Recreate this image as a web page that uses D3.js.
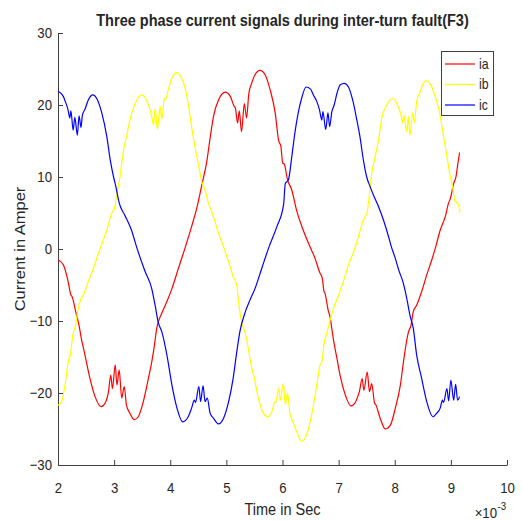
<!DOCTYPE html>
<html>
<head>
<meta charset="utf-8">
<script src="https://cdn.jsdelivr.net/npm/d3@7"></script>
<style>
  body { margin: 0; background: #fff; }
  text { font-family: "Liberation Sans", Arial, sans-serif; fill: #262626; }
</style>
</head>
<body>
<script>
// time in ms (axis shows x10^-3 s), current in A
const iaPoints = [[2.00,-1.5],[2.095,-2.2],[2.18,-4.5],[2.23,-6.4],[2.25,-6.6],[2.315,-8.7],[2.375,-10.6],[2.41,-12.2],[2.48,-14.7],[2.57,-18.0],[2.66,-20.5],[2.77,-21.9],[2.84,-21.4],[2.90,-19.8],[2.94,-17.5],[2.97,-19.4],[3.02,-16.1],[3.05,-18.9],[3.09,-16.8],[3.135,-20.7],[3.18,-19.1],[3.22,-21.7],[3.28,-22.8],[3.36,-23.7],[3.43,-23.3],[3.52,-21.2],[3.61,-18.0],[3.67,-15.7],[3.71,-13.8],[3.76,-11.0],[3.85,-8.9],[3.94,-7.3],[4.03,-5.5],[4.145,-2.7],[4.27,0.3],[4.38,3.1],[4.47,5.6],[4.56,8.8],[4.65,12.1],[4.71,15.4],[4.77,18.4],[4.86,20.7],[4.98,21.8],[5.07,21.2],[5.14,19.8],[5.16,19.6],[5.20,17.5],[5.23,19.2],[5.27,16.3],[5.32,20.2],[5.36,18.2],[5.40,21.6],[5.45,23.0],[5.51,24.2],[5.60,24.8],[5.69,24.2],[5.78,22.1],[5.87,18.9],[5.93,15.1],[5.97,14.3],[6.005,11.9],[6.03,11.8],[6.09,9.6],[6.165,8.2],[6.25,5.4],[6.37,2.6],[6.49,0.3],[6.58,-1.3],[6.66,-3.2],[6.71,-4.1],[6.74,-5.9],[6.75,-6.0],[6.82,-8.7],[6.84,-9.2],[6.91,-12.7],[6.97,-15.2],[7.03,-17.7],[7.12,-20.3],[7.22,-21.8],[7.29,-21.4],[7.35,-20.3],[7.37,-19.8],[7.42,-18.0],[7.45,-19.6],[7.51,-17.1],[7.55,-19.8],[7.59,-18.7],[7.64,-21.4],[7.66,-21.6],[7.74,-23.5],[7.83,-25.0],[7.92,-24.5],[8.01,-22.1],[8.10,-18.9],[8.155,-15.7],[8.20,-13.3],[8.245,-11.5],[8.29,-10.6],[8.33,-8.7],[8.39,-7.8],[8.48,-5.9],[8.57,-3.6],[8.66,-1.5],[8.73,0.3],[8.81,2.6],[8.90,4.5],[8.96,6.4],[8.99,7.0],[9.05,9.1],[9.09,10.0],[9.125,11.9],[9.155,13.4]];

const ibPoints = [[2.00,-21.7],[2.065,-21.2],[2.125,-18.9],[2.195,-15.2],[2.21,-15.0],[2.27,-11.7],[2.315,-10.6],[2.35,-8.7],[2.41,-6.9],[2.45,-6.4],[2.54,-4.5],[2.63,-2.7],[2.72,-0.6],[2.76,0.3],[2.87,2.6],[2.97,5.2],[3.00,5.5],[3.06,8.2],[3.105,10.0],[3.135,11.9],[3.18,14.2],[3.22,15.6],[3.28,17.9],[3.34,19.5],[3.42,20.9],[3.49,21.4],[3.56,20.9],[3.62,19.8],[3.67,18.4],[3.70,17.2],[3.73,19.5],[3.77,16.6],[3.82,19.8],[3.85,18.0],[3.895,20.9],[3.91,20.7],[3.97,22.3],[4.04,23.9],[4.115,24.5],[4.19,23.9],[4.26,22.5],[4.32,20.2],[4.38,17.0],[4.44,14.2],[4.51,11.4],[4.56,9.4],[4.62,8.2],[4.68,6.4],[4.77,4.5],[4.86,2.2],[4.95,0.3],[5.04,-1.8],[5.125,-3.9],[5.185,-5.0],[5.21,-6.9],[5.24,-8.7],[5.285,-10.6],[5.33,-11.5],[5.38,-13.3],[5.44,-16.1],[5.50,-18.0],[5.57,-20.7],[5.66,-22.8],[5.74,-23.3],[5.81,-22.6],[5.87,-21.2],[5.88,-21.3],[5.93,-19.4],[5.96,-21.0],[6.015,-18.7],[6.05,-21.6],[6.09,-20.0],[6.135,-23.0],[6.16,-23.5],[6.255,-25.4],[6.34,-26.7],[6.43,-25.8],[6.52,-23.0],[6.61,-18.9],[6.67,-16.1],[6.70,-15.7],[6.75,-12.7],[6.77,-12.2],[6.84,-10.1],[6.91,-8.2],[7.00,-6.4],[7.085,-4.5],[7.175,-2.2],[7.29,0.1],[7.37,2.2],[7.44,4.0],[7.51,5.2],[7.55,7.7],[7.59,10.5],[7.65,12.8],[7.71,15.1],[7.77,18.2],[7.86,20.0],[7.97,20.9],[8.05,20.0],[8.11,18.6],[8.14,17.5],[8.16,18.6],[8.215,16.3],[8.245,18.4],[8.27,15.8],[8.32,18.9],[8.35,17.5],[8.39,20.5],[8.45,21.8],[8.51,23.0],[8.57,23.4],[8.64,22.8],[8.72,21.2],[8.80,18.9],[8.87,15.6],[8.92,13.3],[8.945,12.1],[8.99,10.0],[9.03,8.7],[9.075,6.6],[9.12,6.4],[9.165,5.1]];

const icPoints = [[2.00,21.9],[2.095,21.2],[2.125,20.6],[2.18,19.3],[2.21,18.2],[2.23,19.2],[2.27,16.5],[2.30,18.3],[2.345,15.8],[2.375,18.5],[2.41,16.9],[2.435,18.6],[2.48,19.4],[2.54,20.7],[2.62,21.4],[2.69,20.9],[2.78,18.9],[2.87,15.6],[2.93,12.4],[2.99,10.0],[3.03,8.7],[3.09,6.4],[3.19,4.7],[3.31,2.6],[3.40,0.3],[3.55,-3.1],[3.67,-5.5],[3.73,-7.8],[3.79,-10.3],[3.85,-11.5],[3.94,-14.7],[4.03,-18.9],[4.12,-22.1],[4.22,-24.0],[4.32,-23.3],[4.38,-22.1],[4.43,-21.0],[4.45,-21.3],[4.51,-19.1],[4.54,-21.2],[4.585,-19.0],[4.62,-21.2],[4.66,-20.7],[4.71,-22.8],[4.77,-23.5],[4.86,-24.3],[4.95,-23.5],[5.04,-21.2],[5.12,-18.0],[5.185,-14.3],[5.24,-11.5],[5.33,-8.9],[5.42,-7.1],[5.51,-5.5],[5.63,-2.7],[5.76,0.3],[5.90,3.1],[6.02,6.2],[6.05,9.1],[6.105,9.6],[6.165,12.8],[6.22,16.1],[6.28,18.9],[6.34,20.9],[6.42,22.5],[6.50,22.2],[6.55,21.4],[6.61,20.5],[6.66,19.3],[6.70,17.9],[6.72,19.1],[6.77,16.6],[6.81,18.9],[6.84,17.0],[6.88,19.1],[6.92,20.0],[6.97,21.6],[7.03,22.8],[7.10,23.0],[7.175,22.5],[7.25,20.7],[7.325,17.9],[7.38,15.6],[7.44,12.4],[7.50,10.0],[7.56,8.7],[7.62,7.5],[7.71,5.9],[7.80,4.0],[7.89,1.7],[7.94,0.3],[8.01,-1.3],[8.07,-2.9],[8.155,-4.8],[8.22,-7.1],[8.27,-9.2],[8.33,-11.0],[8.39,-14.7],[8.48,-18.0],[8.57,-21.2],[8.68,-23.3],[8.75,-22.8],[8.81,-22.1],[8.85,-21.0],[8.87,-21.3],[8.93,-19.4],[8.96,-21.1],[9.00,-18.2],[9.05,-21.0],[9.085,-18.8],[9.12,-21.0],[9.155,-20.5]];

const seriesNames = ['ia', 'ib', 'ic'];
const seriesColors = ['#ff0000', '#ffff00', '#0000ff'];
const xTicks = [2, 3, 4, 5, 6, 7, 8, 9, 10];
const yTicks = [-30, -20, -10, 0, 10, 20, 30];

const width = 522, height = 521;
const sx = 0.88; // text in the reference is a bit squeezed horizontally
const axisColor = '#404040';

const svg = d3.select('body').append('svg')
    .attr('width', width)
    .attr('height', height);

const x = d3.scaleLinear().domain([2, 10]).range([58, 507]);
const y = d3.scaleLinear().domain([-30, 30]).range([465, 33]);

// axes
const gx = svg.append('g')
    .attr('transform', `translate(0,${y(-30)})`)
    .call(d3.axisBottom(x).tickValues(xTicks).tickFormat(d3.format('d'))
        .tickSizeInner(-5).tickSizeOuter(0).tickPadding(17));
gx.selectAll('text')
    .style('font-size', '15px')
    .attr('transform', `scale(${sx},1)`);

const gy = svg.append('g')
    .attr('transform', `translate(${x(2)},0)`)
    .call(d3.axisLeft(y).tickValues(yTicks)
        .tickSizeInner(-5).tickSizeOuter(0).tickPadding(6));
gy.selectAll('text').each(function () {
    const t = d3.select(this);
    const tx = +t.attr('x');
    t.attr('x', 0)
        .style('font-size', '15px')
        .attr('transform', `translate(${tx},0) scale(${sx},1)`);
});

svg.selectAll('.domain, .tick line').attr('stroke', axisColor);

// curves
const line = d3.line()
    .x(d => x(d[0]))
    .y(d => y(d[1]))
    .curve(d3.curveMonotoneX);
[iaPoints, ibPoints, icPoints].forEach((pts, i) => {
    svg.append('path')
        .datum(pts)
        .attr('fill', 'none')
        .attr('stroke', seriesColors[i])
        .attr('stroke-width', 1.2)
        .attr('stroke-linejoin', 'round')
        .attr('d', line);
});

// title and labels
svg.append('text')
    .attr('transform', `translate(282.5,25.5) scale(${sx},1)`)
    .attr('text-anchor', 'middle')
    .style('font-size', '16.5px')
    .style('font-weight', 'bold')
    .text('Three phase current signals during inter-turn fault(F3)');

svg.append('text')
    .attr('transform', `translate(282.5,515) scale(${sx},1)`)
    .attr('text-anchor', 'middle')
    .style('font-size', '16.5px')
    .text('Time in Sec');

svg.append('text')
    .attr('transform', `translate(25,249) rotate(-90) scale(1,${sx})`)
    .attr('text-anchor', 'middle')
    .style('font-size', '16.5px')
    .text('Current in Amper');

// x10^-3 multiplier
svg.append('text')
    .attr('transform', `translate(497,518) scale(${sx},1)`)
    .attr('text-anchor', 'end')
    .style('font-size', '15px')
    .text('\u00d710');
svg.append('text')
    .attr('transform', `translate(497.5,509.5) scale(${sx},1)`)
    .style('font-size', '11px')
    .text('-3');

// legend
const legend = svg.append('g').attr('transform', 'translate(441,51)');
legend.append('rect')
    .attr('x', 0.5).attr('y', 0.5)
    .attr('width', 52).attr('height', 64)
    .attr('fill', '#fff')
    .attr('stroke', axisColor);
const item = legend.selectAll('g.item')
    .data(seriesNames)
    .enter().append('g')
    .attr('class', 'item')
    .attr('transform', (d, i) => `translate(0,${13 + i * 20.5})`);
item.append('line')
    .attr('x1', 4).attr('x2', 34)
    .attr('stroke', (d, i) => seriesColors[i])
    .attr('stroke-width', 1.2);
item.append('text')
    .attr('transform', `translate(38,0) scale(${sx},1)`)
    .attr('dy', '0.35em')
    .style('font-size', '14px')
    .text(d => d);
</script>
</body>
</html>
